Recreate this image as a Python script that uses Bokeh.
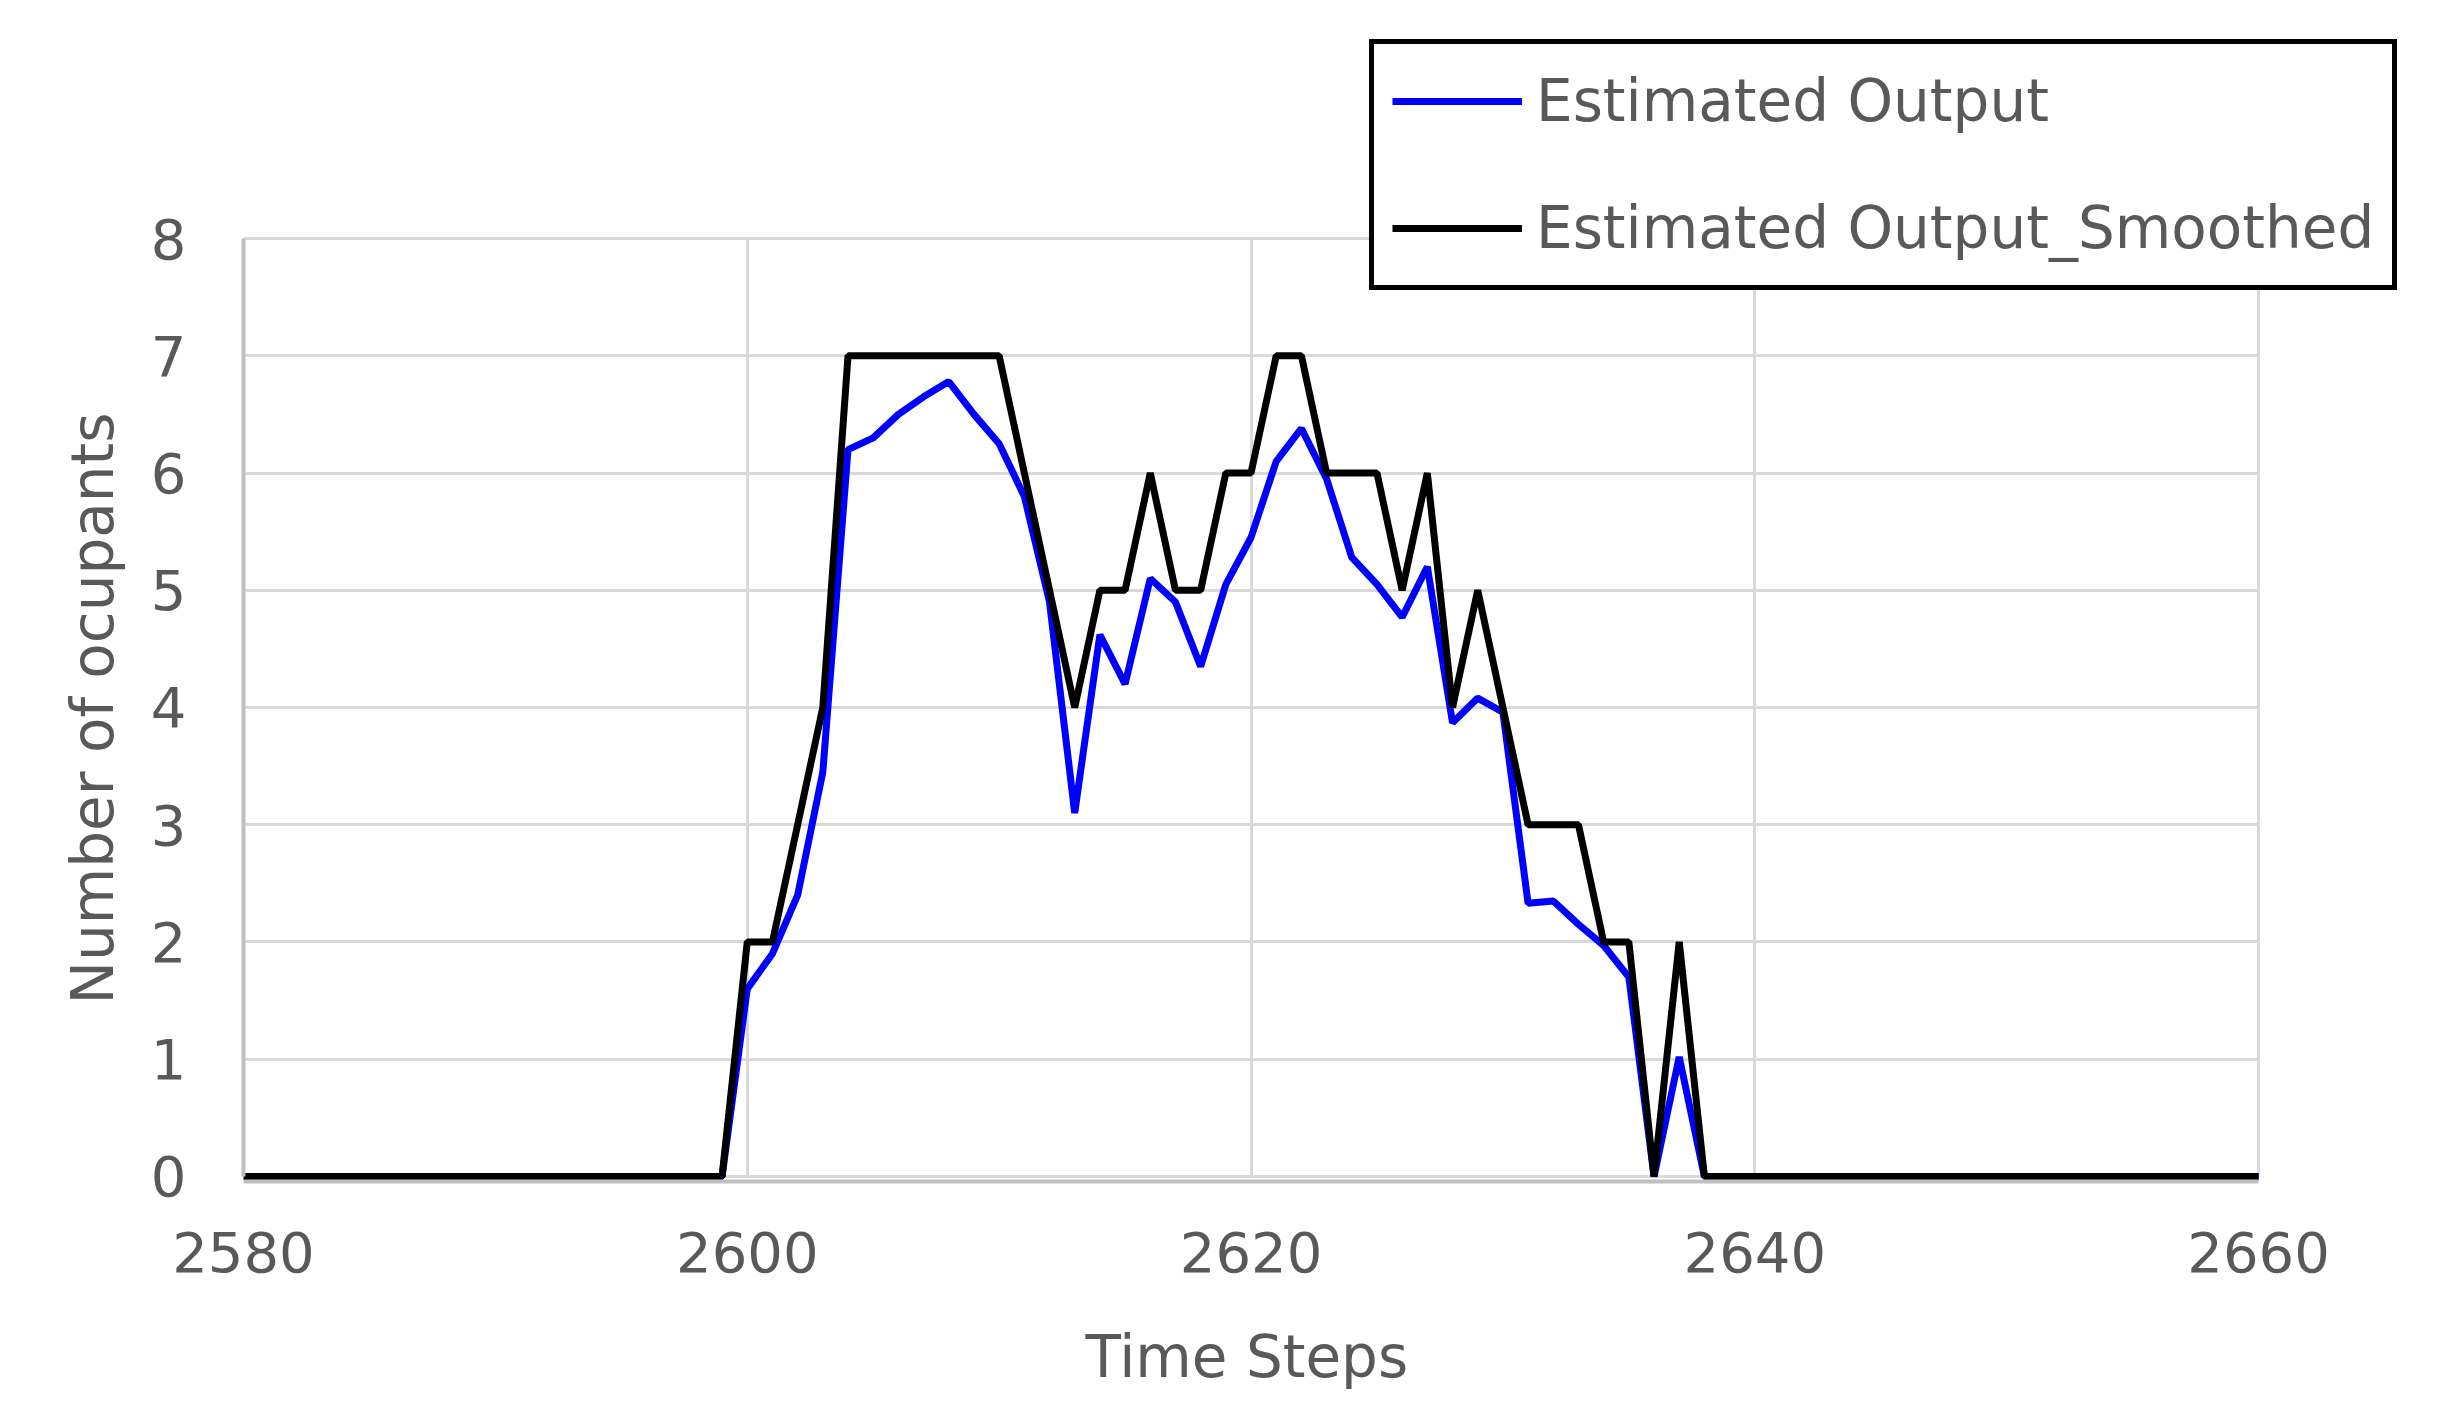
from bokeh.plotting import figure
from bokeh.models import Range1d, Legend, LegendItem, FixedTicker, Title
from bokeh.embed import file_html
from bokeh.resources import INLINE

# ---- data ----
time_steps = [2580, 2581, 2582, 2583, 2584, 2585, 2586, 2587, 2588, 2589,
              2590, 2591, 2592, 2593, 2594, 2595, 2596, 2597, 2598, 2599,
              2600, 2601, 2602, 2603, 2604, 2605, 2606, 2607, 2608, 2609,
              2610, 2611, 2612, 2613, 2614, 2615, 2616, 2617, 2618, 2619,
              2620, 2621, 2622, 2623, 2624, 2625, 2626, 2627, 2628, 2629,
              2630, 2631, 2632, 2633, 2634, 2635, 2636, 2637, 2638, 2639,
              2640, 2641, 2642, 2643, 2644, 2645, 2646, 2647, 2648, 2649,
              2650, 2651, 2652, 2653, 2654, 2655, 2656, 2657, 2658, 2659,
              2660]

estimated_output = [0, 0, 0, 0, 0, 0, 0, 0, 0, 0,
                    0, 0, 0, 0, 0, 0, 0, 0, 0, 0,
                    1.6, 1.9, 2.4, 3.45, 6.2, 6.3, 6.5, 6.65, 6.78, 6.5,
                    6.25, 5.8, 4.9, 3.1, 4.62, 4.2, 5.1, 4.9, 4.35, 5.05,
                    5.45, 6.1, 6.38, 5.95, 5.28, 5.05, 4.77, 5.2, 3.87, 4.08,
                    3.96, 2.33, 2.35, 2.15, 1.97, 1.7, 0, 1.02, 0, 0,
                    0, 0, 0, 0, 0, 0, 0, 0, 0, 0,
                    0, 0, 0, 0, 0, 0, 0, 0, 0, 0,
                    0]

estimated_output_smoothed = [0, 0, 0, 0, 0, 0, 0, 0, 0, 0,
                             0, 0, 0, 0, 0, 0, 0, 0, 0, 0,
                             2, 2, 3, 4, 7, 7, 7, 7, 7, 7,
                             7, 6, 5, 4, 5, 5, 6, 5, 5, 6,
                             6, 7, 7, 6, 6, 6, 5, 6, 4, 5,
                             4, 3, 3, 3, 2, 2, 0, 2, 0, 0,
                             0, 0, 0, 0, 0, 0, 0, 0, 0, 0,
                             0, 0, 0, 0, 0, 0, 0, 0, 0, 0,
                             0]

x_ticks = [2580, 2600, 2620, 2640, 2660]
y_ticks = [0, 1, 2, 3, 4, 5, 6, 7, 8]

series_labels = ["Estimated Output", "Estimated Output_Smoothed"]
series_colors = ["#0000ff", "#000000"]
x_title = "Time Steps"
y_title = "Number of ocupants"

FONT = "DejaVu Sans"
TXT = "#595959"

# the frame is extended above and to the right so the legend (which overlaps
# the plot area and sticks out of it) is not clipped; grids/axes are bounded.
p = figure(frame_width=2177, frame_height=1154,
           min_border_left=243, min_border_right=20,
           min_border_top=27, min_border_bottom=220,
           output_backend="svg", toolbar_location=None,
           x_range=Range1d(2580, 2666.43), y_range=Range1d(-0.043, 9.8))
p.outline_line_color = None
p.background_fill_color = "white"
p.border_fill_color = "white"

r1 = p.line(time_steps, estimated_output, line_color=series_colors[0], line_width=7)
r2 = p.line(time_steps, estimated_output_smoothed, line_color=series_colors[1], line_width=7)

# axes
p.xaxis.ticker = FixedTicker(ticks=x_ticks)
p.yaxis.ticker = FixedTicker(ticks=y_ticks)
p.xaxis.bounds = (x_ticks[0], x_ticks[-1])
p.yaxis.bounds = (y_ticks[0], y_ticks[-1])
for ax in (p.xaxis[0], p.yaxis[0]):
    ax.major_label_text_font = FONT
    ax.major_label_text_font_size = "56px"
    ax.major_label_text_color = TXT
    ax.major_tick_out = 0
    ax.major_tick_in = 0
    ax.minor_tick_out = 0
    ax.minor_tick_in = 0
    ax.axis_line_color = "#bfbfbf"
    ax.axis_line_width = 4
p.xaxis.major_label_standoff = 50
p.yaxis.major_label_standoff = 57

# axis titles centred on the 0-8 / 2580-2660 area, not on the extended frame
xt = Title(text=x_title, align="left", offset=842, standoff=93,
           text_font=FONT, text_font_size="58px", text_font_style="normal",
           text_color=TXT)
p.add_layout(xt, "below")
yt = Title(text=y_title, align="left", offset=177, standoff=41,
           text_font=FONT, text_font_size="58px", text_font_style="normal",
           text_color=TXT)
p.add_layout(yt, "left")

p.xgrid.grid_line_color = "#d9d9d9"
p.ygrid.grid_line_color = "#d9d9d9"
p.xgrid.grid_line_width = 3
p.ygrid.grid_line_width = 3
p.xgrid.cross_bounds = (y_ticks[0], y_ticks[-1])
p.ygrid.cross_bounds = (x_ticks[0], x_ticks[-1])

legend = Legend(items=[LegendItem(label=series_labels[0], renderers=[r1]),
                       LegendItem(label=series_labels[1], renderers=[r2])],
                location=(1126, 891))
legend.label_text_font = FONT
legend.label_text_font_size = "58px"
legend.label_text_color = TXT
legend.glyph_width = 130
legend.glyph_height = 78
legend.label_height = 78
legend.label_standoff = 14
legend.spacing = 49
legend.padding = 18
legend.margin = 0
legend.border_line_color = "black"
legend.border_line_alpha = 1.0
legend.border_line_width = 5
legend.background_fill_color = "white"
legend.background_fill_alpha = 1.0
p.add_layout(legend, "center")

open("out.html", "w").write(file_html(p, INLINE))
